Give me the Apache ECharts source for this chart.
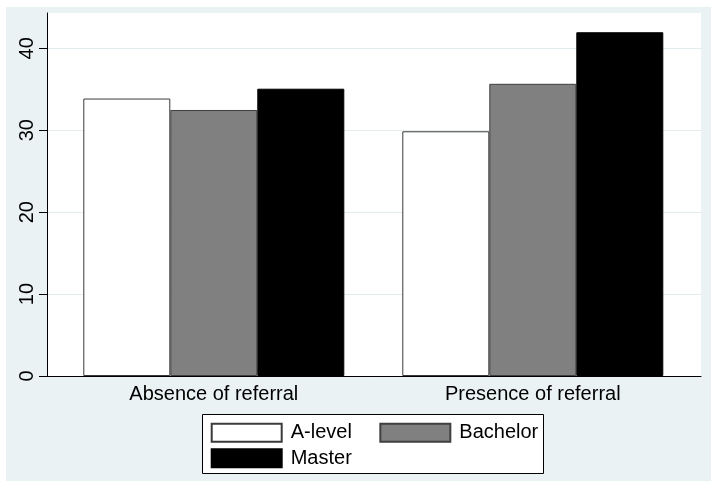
<!DOCTYPE html>
<html>
<head>
<meta charset="utf-8">
<script src="https://cdn.jsdelivr.net/npm/echarts@6/dist/echarts.min.js"></script>
<style>html,body{margin:0;padding:0;background:#fff}#c{width:711px;height:481px}</style>
</head>
<body>
<div id="c"></div>
<script>
var categories = ['Absence of referral', 'Presence of referral'];
var seriesNames = ['A-level', 'Bachelor', 'Master'];
var aLevel = [33.9, 29.9];
var bachelor = [32.5, 35.7];
var master = [35.1, 42.0];
var yTicks = [0, 10, 20, 30, 40];
var yTop = 44.35;

var FONT = '"Liberation Sans", Arial, Helvetica, sans-serif';
var chart = echarts.init(document.getElementById('c'), null, {renderer: 'canvas'});
var option = {
  animation: false,
  backgroundColor: '#eaf2f3',
  textStyle: {fontFamily: FONT},
  graphic: [
    {type: 'rect', z: 0, silent: true, shape: {x: 0, y: 0, width: 6, height: 481}, style: {fill: '#ffffff'}},
    {type: 'rect', z: 0, silent: true, shape: {x: 0, y: 0, width: 711, height: 7}, style: {fill: '#ffffff'}},
    {type: 'rect', z: 1, silent: true, shape: {x: 202.5, y: 414.5, width: 341, height: 59}, style: {fill: '#ffffff', stroke: '#000000', lineWidth: 1}}
  ],
  grid: [
    {left: 47, top: 13, width: 654, height: 363, show: true, backgroundColor: '#ffffff', borderWidth: 0, containLabel: false},
    {left: 47, top: 48.3, width: 654, height: 327.7, containLabel: false},
    {left: 54.3, top: 13, width: 638, height: 363, containLabel: false}
  ],
  xAxis: [
    {gridIndex: 0, type: 'value', min: 0, max: 1, z: 5,
     axisLine: {show: true, onZero: false, lineStyle: {color: '#000000', width: 1}},
     axisTick: {show: false}, axisLabel: {show: false}, splitLine: {show: false}},
    {gridIndex: 1, type: 'value', min: 0, max: 1, show: false},
    {gridIndex: 2, type: 'category', data: categories, boundaryGap: true,
     axisLine: {show: false}, axisTick: {show: false}, splitLine: {show: false},
     axisLabel: {color: '#000000', fontSize: 20, fontFamily: FONT, margin: 8, interval: 0}}
  ],
  yAxis: [
    {gridIndex: 0, type: 'value', min: 0, max: 1, z: 5,
     axisLine: {show: true, onZero: false, lineStyle: {color: '#000000', width: 1}},
     axisTick: {show: false}, axisLabel: {show: false}, splitLine: {show: false}},
    {gridIndex: 1, type: 'value', min: yTicks[0], max: yTicks[yTicks.length - 1], interval: 10,
     axisLine: {show: false},
     axisTick: {show: true, length: 8, lineStyle: {color: '#000000', width: 1}},
     axisLabel: {rotate: 90, color: '#000000', fontSize: 20, fontFamily: FONT, margin: 10},
     splitLine: {show: true, lineStyle: {color: '#e3ecee', width: 1}}},
    {gridIndex: 2, type: 'value', min: 0, max: yTop, show: false}
  ],
  legend: [
    {data: ['A-level', 'Bachelor'], left: 210.7, top: 422.7, padding: 0, orient: 'horizontal',
     itemWidth: 70, itemHeight: 18, itemGap: 27.5, icon: 'rect', z: 10, selectedMode: false,
     textStyle: {fontSize: 20, lineHeight: 18, color: '#000000', fontFamily: FONT, padding: [0, 0, 0, 4]}},
    {data: ['Master'], left: 210.7, top: 448.3, padding: 0, orient: 'horizontal',
     itemWidth: 70, itemHeight: 18, icon: 'rect', z: 10, selectedMode: false,
     textStyle: {fontSize: 20, lineHeight: 18, color: '#000000', fontFamily: FONT, padding: [0, 0, 0, 4]}}
  ],
  series: [
    {name: seriesNames[0], type: 'bar', xAxisIndex: 2, yAxisIndex: 2, data: aLevel, barWidth: 87, barGap: '0%',
     itemStyle: {color: '#ffffff', borderColor: '#3a3a3a', borderWidth: 1}},
    {name: seriesNames[1], type: 'bar', xAxisIndex: 2, yAxisIndex: 2, data: bachelor, barWidth: 87, barGap: '0%',
     itemStyle: {color: '#808080', borderColor: '#3f3f3f', borderWidth: 1}},
    {name: seriesNames[2], type: 'bar', xAxisIndex: 2, yAxisIndex: 2, data: master, barWidth: 87, barGap: '0%',
     itemStyle: {color: '#000000', borderColor: '#000000', borderWidth: 1}}
  ]
};
chart.setOption(option);
</script>
</body>
</html>
